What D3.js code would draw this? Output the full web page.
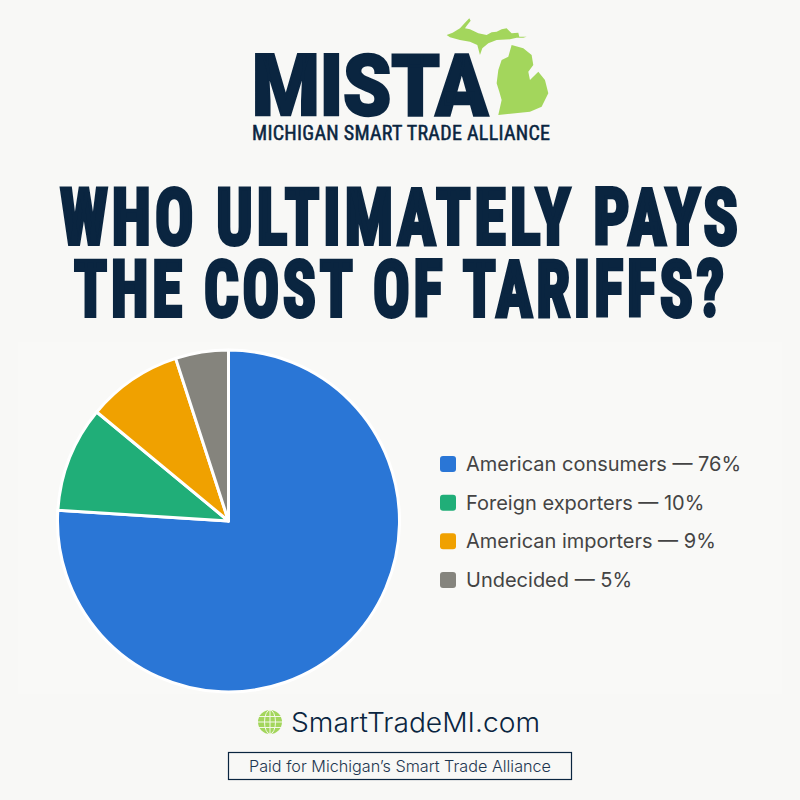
<!DOCTYPE html>
<html><head><meta charset="utf-8">
<script src="https://cdn.jsdelivr.net/npm/d3@7/dist/d3.min.js"></script>
<style>html,body{margin:0;padding:0;background:#f8f8f6}svg{display:block}</style>
</head><body><svg id="c" width="800" height="800"></svg>
<script>
const categories = ["American consumers","Foreign exporters","American importers","Undecided"];
const values = [76,10,9,5];
const colors = ["#2a76d6","#20ae78","#f0a100","#85847d"];
const navy = "#0a2540";
const svg = d3.select("#c");
svg.append("rect").attr("width",800).attr("height",800).attr("fill","#f8f8f6");
svg.append("rect").attr("x",18).attr("y",342).attr("width",764).attr("height",352).attr("fill","#f9f9f7");

// logo
const logo = svg.append("g").attr("transform","translate(230,0) scale(0.3333)").attr("fill","#a3d65c");
logo.append("path").attr("d","M650 105L668 98L690 85L705 68L718 55L722 62L712 75L705 85L720 88L745 100L770 105L785 97L800 95L815 88L830 85L845 100L865 98L868 110L890 110L880 113L860 113L840 118L800 120L775 130L757 145L750 165L742 135L720 125L690 120L660 112Z");
logo.append("path").attr("d","M805 345L815 300L808 275L800 250L805 210L815 180L835 170L845 135L880 145L905 165L910 195L895 215L900 240L925 215L945 240L955 280L935 320L900 335Z");
const tx = (t,x,y,o) => {
  const e = svg.append("text").attr("x",x).attr("y",y).text(t)
    .attr("font-family",o.f).attr("font-size",o.s).attr("font-weight",o.w||400)
    .attr("fill",o.c||navy).attr("text-anchor",o.a||"start");
  if(o.l) e.attr("textLength",o.l).attr("lengthAdjust",o.adj||"spacing");
  if(o.sw) e.attr("stroke",o.c||navy).attr("stroke-width",o.sw).attr("stroke-linejoin","miter");
  return e;
};
const narrow = "'Liberation Sans Narrow','Roboto Condensed',Roboto";
// heavy headline: letter-spaced, then squeezed horizontally to the target width
const fit = (t,x,y,target,o) => {
  const e = svg.append("text").text(t).attr("font-family",narrow).attr("font-size",o.s).attr("font-weight",700)
    .attr("fill",navy).attr("stroke",navy).attr("stroke-width",o.sw).attr("letter-spacing",o.ls);
  const k = target / (e.node().getComputedTextLength() - o.ls);
  e.attr("transform",`translate(${x},${y}) scale(${k},1)`);
};
tx("MISTA",252,115,{f:"Roboto",s:86,w:900,l:236,adj:"spacingAndGlyphs",sw:2.5});
tx("MICHIGAN SMART TRADE ALLIANCE",252,140,{f:narrow,s:20,w:400,l:298,sw:0.5});
fit("WHO ULTIMATELY PAYS",60,244,678,{s:78,sw:4,ls:5});
fit("THE COST OF TARIFFS?",74,316,650,{s:78,sw:4,ls:5});

// pie
const cx=228.5, cy=521, R=171;
const pie = d3.pie().sort(null).value(d=>d);
const arc = d3.arc().innerRadius(0).outerRadius(R);
svg.append("g").attr("transform",`translate(${cx},${cy})`)
  .selectAll("path").data(pie(values)).join("path")
  .attr("d",arc).attr("fill",(d,i)=>colors[i])
  .attr("stroke","#ffffff").attr("stroke-width",3).attr("stroke-linejoin","round");

// legend
const ly = d3.scalePoint().domain(categories).range([464,580]);
const leg = svg.append("g").selectAll("g").data(categories).join("g")
  .attr("transform",d=>`translate(0,${ly(d)})`);
leg.append("rect").attr("x",440).attr("y",-8).attr("width",16).attr("height",16).attr("rx",3)
  .attr("fill",(d,i)=>colors[i]);
leg.append("text").attr("x",466).attr("y",7).attr("font-family","Inter").attr("font-size",20)
  .attr("fill","#444444").text((d,i)=>`${d} — ${values[i]}%`);

// footer
const globe = svg.append("g").attr("transform","translate(270,722)");
globe.append("circle").attr("r",12).attr("fill","#a3d65c");
globe.append("ellipse").attr("rx",5.5).attr("ry",12).attr("fill","none").attr("stroke","#f4f8e8").attr("stroke-width",1);
["M-12 0H12","M-11 -5.5H11","M-11 5.5H11","M0 -12V12"].forEach(d=>globe.append("path").attr("d",d).attr("stroke","#f4f8e8").attr("stroke-width",1));
tx("SmartTradeMI.com",291,732,{f:"Inter",s:27,w:300,l:249,adj:"spacingAndGlyphs"});
svg.append("rect").attr("x",228.5).attr("y",752.5).attr("width",343).attr("height",27).attr("fill","none").attr("stroke",navy).attr("stroke-width",1.2);
tx("Paid for Michigan’s Smart Trade Alliance",249,772,{f:"Inter",s:16,w:300,l:302,adj:"spacingAndGlyphs",c:"#1d3650"});
</script></body></html>
